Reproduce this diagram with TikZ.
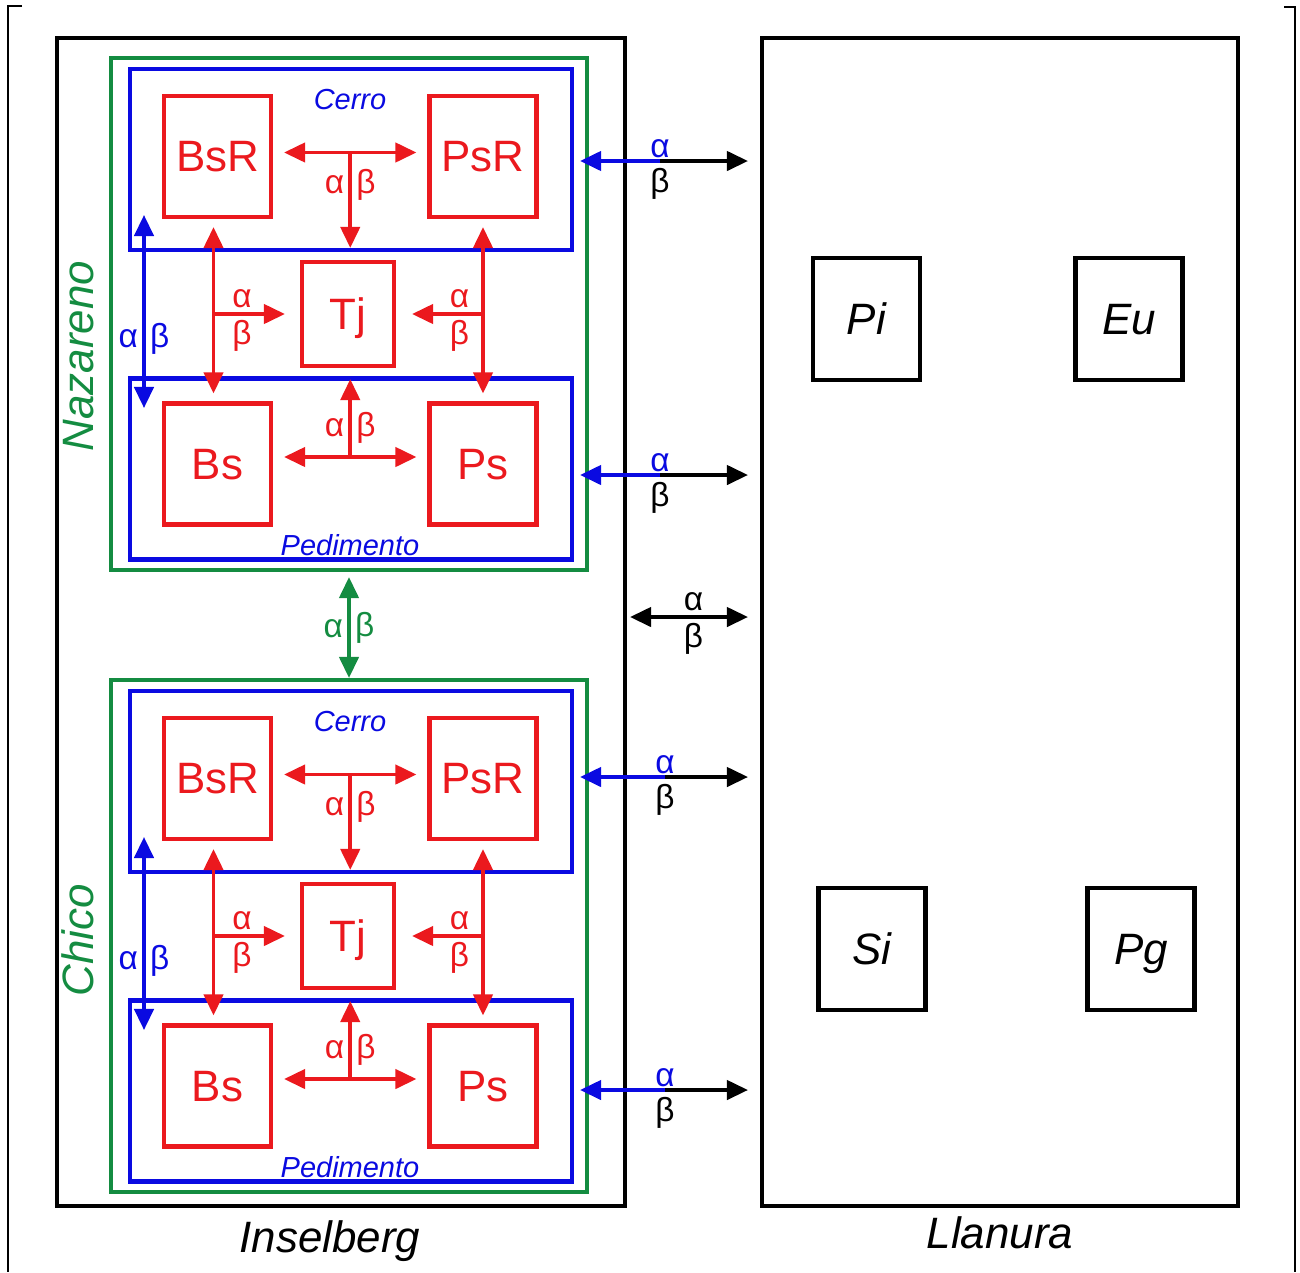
\documentclass[tikz,border=0pt]{standalone}
\usepackage{fontspec}
\setmainfont{Liberation Sans}
\usetikzlibrary{arrows.meta}
\definecolor{figR}{RGB}{235,25,30}
\definecolor{figB}{RGB}{10,10,225}
\definecolor{figG}{RGB}{20,140,65}

\tikzset{
  box/.style={draw,line width=2.4pt,inner sep=0pt},
  cell/.style={box,draw=figR,text=figR,font=\fontsize{25}{30}\selectfont,text depth=0pt,
    minimum width=2.14cm,minimum height=2.42cm},
  taxon/.style={box,font=\fontsize{25}{30}\selectfont\itshape,text depth=0pt,
    minimum width=2.14cm,minimum height=2.44cm},
  zone/.style={box,draw=figB,minimum width=8.84cm,minimum height=3.62cm},
  zonetext/.style={text=figB,font=\fontsize{16.5}{20}\selectfont\itshape,text depth=0pt},
  place/.style={font=\fontsize{25}{30}\selectfont\itshape,text depth=0pt},
  flow/.style={line width=2pt},
  ab/.style={font=\fontsize{19}{22}\selectfont,inner sep=2.5pt}
}

\begin{document}
\begin{tikzpicture}[x=0.02cm,y=-0.02cm,>={Triangle[length=12pt,width=11pt]}]
\useasboundingbox (0,0) rectangle (1300,1272);
% corner marks of the page frame
\draw[line width=1pt] (22,6) -- (8,6) -- (8,1272);
\draw[line width=1pt] (1284,7) -- (1295,7) -- (1295,1272);
% the two landforms
\node[box,minimum width=11.36cm,minimum height=23.36cm] (insel) at (341,622) {};
\node[box,minimum width=9.52cm,minimum height=23.36cm] (llan) at (1000,622) {};
\node[place] (inselT) at (330,1237) {Inselberg};
\node[place] (llanT) at (1000,1233) {Llanura};
% taxa on the plain
\node[taxon] (Pi) at (866.5,319) {Pi};
\node[taxon] (Eu) at (1129,319) {Eu};
\node[taxon] (Si) at (872,949) {Si};
\node[taxon] (Pg) at (1141,949) {Pg};
% both hills share one layout
\foreach \g/\dy/\hill/\hy/\ex/\ey/\ez in {N/0/Nazareno/356/660/161/475,C/622/Chico/318/665/155/468}{
\begin{scope}[shift={(0,\dy)}]
\node[box,draw=figG,minimum width=9.52cm,minimum height=10.24cm] (hill\g) at (349,314) {};
\node[place,text=figG,rotate=90] (hillT\g) at (78,\hy) {\hill};
\node[zone] (cerro\g) at (351,159.5) {};
\node[zone] (ped\g) at (351,469) {};
\node[zonetext] (cerroT\g) at (350,99) {Cerro};
\node[zonetext] (pedT\g) at (350,545) {Pedimento};
\node[cell] (BsR\g) at (217.5,156.5) {BsR};
\node[cell] (PsR\g) at (483,156.5) {PsR};
\node[cell,minimum width=1.84cm,minimum height=2.08cm] (Tj\g) at (348,314) {Tj};
\node[cell] (Bs\g) at (217.5,464) {Bs};
\node[cell] (Ps\g) at (483,464) {Ps};
% exchanges inside the hill
\draw[flow,figR,<->,shorten <=0.22cm,shorten >=0.22cm] ([yshift=0.08cm]BsR\g.east) -- coordinate (jc\g) ([yshift=0.08cm]PsR\g.west);
\draw[flow,figR,->,shorten >=0.24cm] (jc\g) -- node[ab,left,pos=0.3]{α} node[ab,right,pos=0.3]{β} (jc\g |- Tj\g.north);
\draw[flow,figR,<->,shorten <=0.22cm,shorten >=0.22cm] ([yshift=0.14cm]Bs\g.east) -- coordinate (jp\g) ([yshift=0.14cm]Ps\g.west);
\draw[flow,figR,->,shorten >=0.22cm] (jp\g) -- node[ab,left,pos=0.33]{α} node[ab,right,pos=0.33]{β} (jp\g |- Tj\g.south);
\draw[flow,figR,<->,shorten <=0.16cm,shorten >=0.16cm] ([xshift=-0.08cm]BsR\g.south) -- ([xshift=-0.08cm]Bs\g.north);
\draw[flow,figR,->,shorten >=0.3cm] ([xshift=-0.08cm]BsR\g.south |- Tj\g.west) -- node[ab,above,pos=0.33]{α} node[ab,below,pos=0.33]{β} (Tj\g.west);
\draw[flow,figR,<->,shorten <=0.16cm,shorten >=0.16cm] (PsR\g.south) -- (Ps\g.north);
\draw[flow,figR,->,shorten >=0.32cm] (PsR\g.south |- Tj\g.east) -- node[ab,above,pos=0.27]{α} node[ab,below,pos=0.27]{β} (Tj\g.east);
% cerro <-> pedimento
\coordinate (vt\g) at (144,215);
\coordinate (vb\g) at (144,408);
\draw[flow,figB,<->] (vt\g) -- node[ab,left,pos=0.64]{α} node[ab,right,pos=0.64]{β} (vb\g);
% exchanges with the plain
\coordinate (ecerro\g) at (\ex,\ey);
\coordinate (eped\g) at (\ex,\ez);
\foreach \z in {cerro,ped}{
  \draw[flow,figB,->,shorten >=0.12cm] (e\z\g) -- (\z\g.east |- e\z\g);
  \draw[flow,->,shorten >=0.24cm] (e\z\g) -- (llan.west |- e\z\g);
  \node[ab,figB,above,inner sep=1.5pt] at (e\z\g) {α};
  \node[ab,below,inner sep=4pt] at (e\z\g) {β};
}
\end{scope}}
% between the hills
\draw[flow,figG,<->,shorten <=0.1cm] (hillN.south) -- node[ab,left,pos=0.53]{α} node[ab,right,pos=0.53]{β} (hillC.north);
% between inselberg and plain
\draw[flow,<->,shorten <=0.06cm,shorten >=0.24cm] ([yshift=0.1cm]insel.east) -- node[ab,above]{α} node[ab,below]{β} ([yshift=0.1cm]llan.west);
\end{tikzpicture}
\end{document}
